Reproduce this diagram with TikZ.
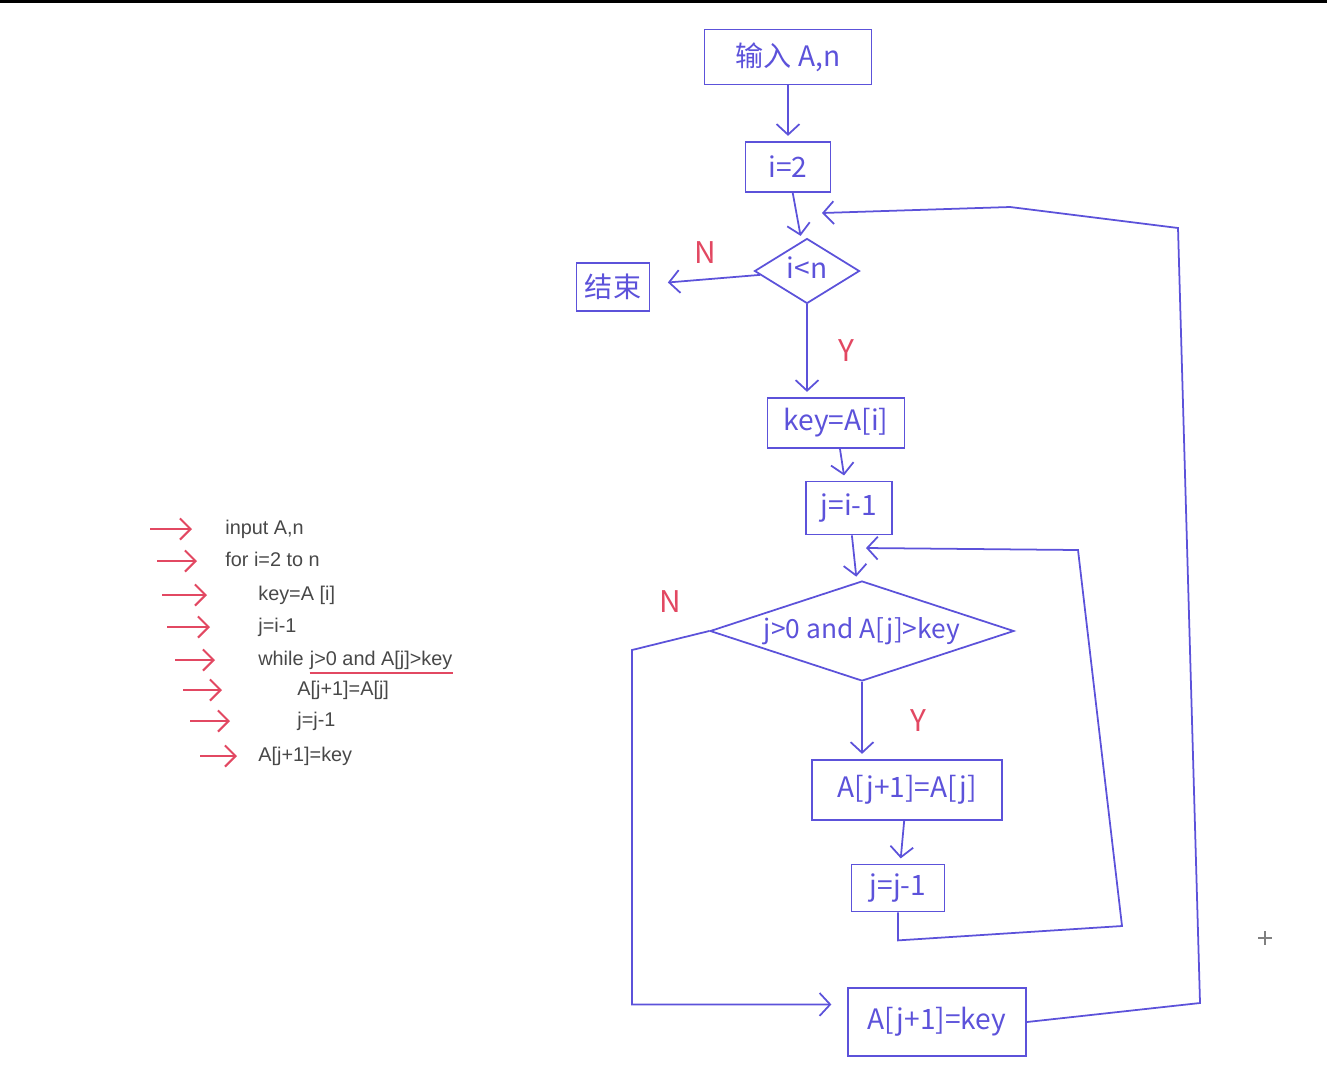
\documentclass[tikz,border=0pt]{standalone}
\usepackage{fontspec}
\setmainfont{Liberation Sans}
\newfontfamily\inkfont{Noto Sans CJK SC}
\usepackage{tikz}
\usetikzlibrary{arrows.meta,positioning,shapes.geometric,calc}
\definecolor{inkcolor}{RGB}{92,82,218}
\definecolor{markcolor}{RGB}{226,72,98}
\definecolor{codecolor}{RGB}{72,72,72}

\begin{document}
\begin{tikzpicture}[x=0.02cm, y=-0.02cm,
    every node/.style={font=\inkfont\fontsize{16}{18}\selectfont},
    box/.style={draw=inkcolor, line width=1pt, text=inkcolor, inner sep=2pt},
    test/.style={draw=inkcolor, line width=1pt, text=inkcolor, shape=diamond,
      inner sep=0pt, text height=10pt, text depth=1pt},
    flow/.style={draw=inkcolor, line width=1pt, shorten >=3pt,
      -{Straight Barb[length=6pt,width=13pt]}},
    yn/.style={text=markcolor, font=\inkfont\fontsize{17}{19}\selectfont},
    code/.style={anchor=west, inner sep=0pt, text=codecolor,
      text height=8.5pt, text depth=2.5pt, font=\fontsize{11.3}{13}\selectfont},
    markarrow/.style={draw=markcolor, line width=1.2pt,
      -{Straight Barb[length=6pt,width=12pt]}}]
  \useasboundingbox (0,0) rectangle (1327,1086);
  \fill[black] (0,0) rectangle (1327,3);

  % pseudo code on the left
  \node[code] (c1) at (225,529) {input A,n};
  \node[code] (c2) at (225,561) {for i=2 to n};
  \node[code] (c3) at (258,595) {key=A [i]};
  \node[code] (c4) at (258,627) {j=i-1};
  \node[code] (c5) at (258,660) {while};
  \node[code, right=3.2pt of c5] (c5b) {j>0 and A[j]>key};
  \node[code] (c6) at (297,690) {A[j+1]=A[j]};
  \node[code] (c7) at (297,721) {j=j-1};
  \node[code] (c8) at (258,756) {A[j+1]=key};
  \draw[markcolor, line width=1pt]
    ([yshift=-1.5pt]c5b.south west) -- ([yshift=-1.5pt]c5b.south east);
  \foreach \n/\g/\l in {1/33/42, 2/28/40, 3/51/45, 4/48/43,
                        5/43/40, 6/75/39, 7/67/40, 8/21/37}
    \draw[markarrow] ($(c\n.west)+(-\g-\l,0)$) -- ($(c\n.west)+(-\g,0)$);

  % flow chart
  \node[box, minimum width=3.34cm, minimum height=1.1cm] (input) at (788,57) {输入 A,n};
  \node[box, minimum width=1.7cm, minimum height=1cm] (i2) at (788,167) {i=2};
  \node[test, aspect=1.6, minimum width=2.1cm, minimum height=1.3cm] (cond1) at (807,271) {i<n};
  \node[box, minimum width=1.46cm, minimum height=0.96cm] (stop) at (613,287) {结束};
  \node[box, minimum width=2.74cm, minimum height=1cm] (key) at (836,423) {key=A[i]};
  \node[box, minimum width=1.72cm, minimum height=1.06cm] (jinit) at (849,508) {j=i-1};
  \node[test, aspect=3, minimum width=6.08cm, minimum height=2cm,
    font=\inkfont\fontsize{15}{17}\selectfont] (wh) at (862,631) {j>0 and A[j]>key};
  \node[box, minimum width=3.8cm, minimum height=1.2cm] (shift) at (907,790) {A[j+1]=A[j]};
  \node[box, minimum width=1.86cm, minimum height=0.94cm] (jdec) at (898,888) {j=j-1};
  \node[box, minimum width=3.56cm, minimum height=1.36cm] (place) at (937,1022) {A[j+1]=key};
  \coordinate (iloop) at (822,213);
  \coordinate (wloop) at (866,548);

  \draw[flow] (input) -- (i2);
  \draw[flow] (i2) -- (cond1);
  \draw[flow, shorten >=10pt] (cond1) -- node[yn, above=5pt] {N} (stop);
  \draw[flow] (cond1.south) -- node[yn, right=14pt] {Y} (cond1.south |- key.north);
  \draw[flow] (key) -- (jinit);
  \draw[flow] (jinit) -- (wh);
  \draw[flow] (wh.south) -- node[yn, right=24pt] {Y} (wh.south |- shift.north);
  \draw[flow] (shift) -- (jdec);

  % loops back
  \draw[flow, shorten >=0pt] (jdec.south) -- ++(0,28) -- (1122,926) -- (1078,550) -- (wloop);
  \draw[flow, shorten >=9pt] (wh.west) -- node[yn, above=12pt] {N} (632,650)
    |- ([yshift=10pt]place.west);
  \draw[flow, shorten >=0pt] (place.east) -- (1200,1003) -- (1178,228) -- (1010,207) -- (iloop);

  % cursor mark
  \draw[gray, line width=1pt] (1258,938) -- (1272,938) (1265,931) -- (1265,945);
\end{tikzpicture}
\end{document}
